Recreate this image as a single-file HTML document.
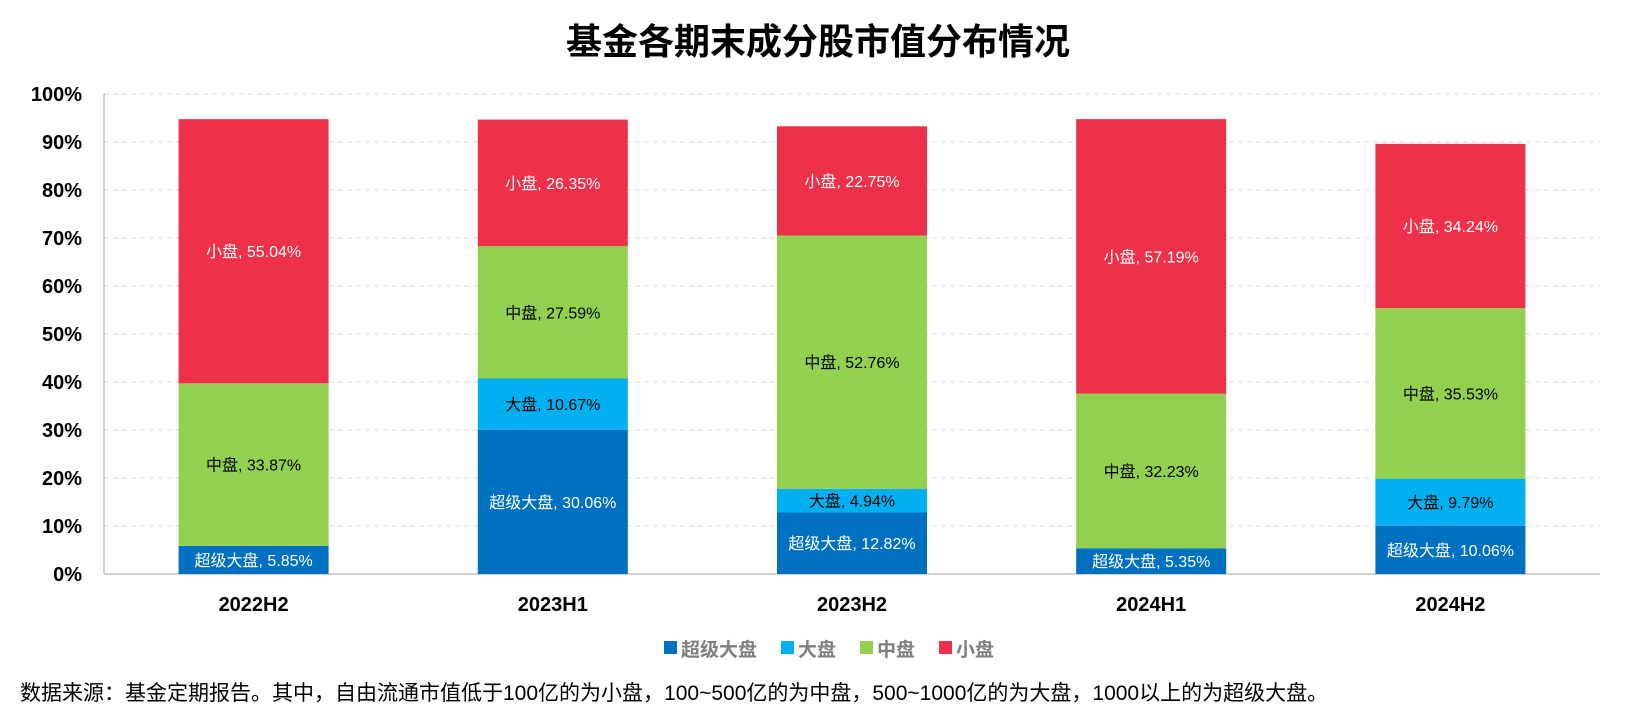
<!DOCTYPE html>
<html><head><meta charset="utf-8"><style>
body{margin:0;background:#fff;font-family:"Liberation Sans","Noto Sans CJK SC",sans-serif}
</style></head><body>
<svg width="1625" height="718" xmlns="http://www.w3.org/2000/svg" font-family="Liberation Sans, Noto Sans CJK SC, sans-serif">
<text x="818" y="54" text-anchor="middle" font-size="36" font-weight="bold" fill="#000">基金各期末成分股市值分布情况</text>
<g id="grid"></g><g id="bars"></g><g id="labels"></g>
<g id="legend"></g>
<text x="20" y="700" font-size="21" fill="#000">数据来源：基金定期报告。其中，自由流通市值低于100亿的为小盘，100~500亿的为中盘，500~1000亿的为大盘，1000以上的为超级大盘。</text>
</svg>
<script>
const categories=["2022H2","2023H1","2023H2","2024H1","2024H2"];
const seriesNames=["超级大盘","大盘","中盘","小盘"];
const superLarge=[5.85,30.06,12.82,5.35,10.06];
const large=[0,10.67,4.94,0,9.79];
const mid=[33.87,27.59,52.76,32.23,35.53];
const small=[55.04,26.35,22.75,57.19,34.24];
const yTicks=[0,10,20,30,40,50,60,70,80,90,100];
const colors=["#0070C0","#00B0F0","#92D050","#EF3049"];
const textColors=["#fff","#000","#000","#fff"];
const L=104,R=1600,T=94,B=574,BW=150;
const ns="http://www.w3.org/2000/svg";
const y=v=>B-(B-T)*v/100;
const x=i=>L+(R-L)*(i+0.5)/categories.length;
function mk(tag,attrs,parent,txt){const e=document.createElementNS(ns,tag);for(const k in attrs)e.setAttribute(k,attrs[k]);if(txt!==undefined)e.textContent=txt;document.getElementById(parent).appendChild(e);return e;}
yTicks.forEach(t=>{
 if(t>0){const g=mk('line',{x1:L,x2:R,y1:y(t),y2:y(t),stroke:'#d9d9d9','stroke-dasharray':'5,4'},'grid');
 
 }
 const tl=mk('text',{x:82,y:y(t)+7,'text-anchor':'end','font-size':20,'font-weight':'bold'},'grid',t+'%');
 
 
});
const ax=mk('line',{x1:L,x2:L,y1:T,y2:B,stroke:'#a6a6a6'},'grid');


const xa=mk('line',{x1:L,x2:R,y1:B,y2:B,stroke:'#a6a6a6'},'grid');


const series=[superLarge,large,mid,small];
categories.forEach((c,i)=>{
 let acc=0;
 series.forEach((s,k)=>{
  const v=s[i];
  if(v>0){
   const r=mk('rect',{x:x(i)-BW/2,y:y(acc+v),width:BW,height:y(acc)-y(acc+v),fill:colors[k]},'bars');
   
   
   const t=mk('text',{x:x(i),y:(y(acc)+y(acc+v))/2+6,'text-anchor':'middle','font-size':16,fill:textColors[k]},'labels',seriesNames[k]+', '+v.toFixed(2)+'%');
   
   
  }
  acc+=v;
 });
 const xl=mk('text',{x:x(i),y:611,'text-anchor':'middle','font-size':20,'font-weight':'bold'},'labels',c);
 
 
});
const lx=[664,781,860,939];
seriesNames.forEach((n,k)=>{
 const r=mk('rect',{x:lx[k],y:641,width:13,height:13,fill:colors[k]},'legend');
 
 
 const t=mk('text',{x:lx[k]+17,y:656,'font-size':19,'font-weight':'bold',fill:'#7f7f7f'},'legend',n);
 
 
});
</script>
</body></html>
